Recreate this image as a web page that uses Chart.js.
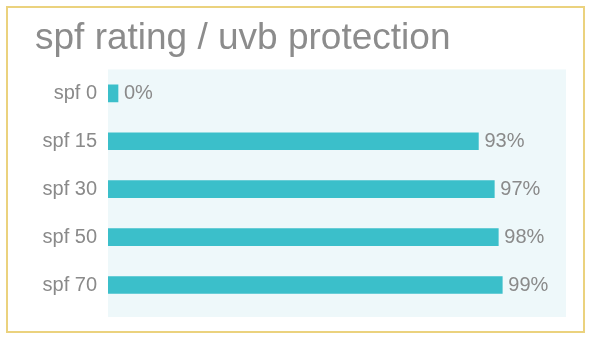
<!DOCTYPE html>
<html>
<head>
<meta charset="utf-8">
<script src="https://cdn.jsdelivr.net/npm/chart.js@4/dist/chart.umd.min.js"></script>
<style>
  html, body { margin: 0; padding: 0; background: #fff; }
  #wrap { position: relative; width: 592px; height: 341px; }
  #frame {
    position: absolute; left: 6px; top: 6px; width: 579px; height: 327px;
    box-sizing: border-box; border: 2px solid #ebd27e; pointer-events: none;
  }
</style>
</head>
<body>
<div id="wrap">
  <canvas id="uvbChart" width="592" height="341"></canvas>
  <div id="frame"></div>
</div>
<script>
const categories = ['spf 0', 'spf 15', 'spf 30', 'spf 50', 'spf 70'];
const protection = [0, 93, 97, 98, 99];

const textGray = '#8a8a8a';
const barTeal = '#3bbfca';
const fontFamily = '"Liberation Sans", Arial, sans-serif';

// light panel behind the bars
const panelBackground = {
  id: 'panelBackground',
  beforeDraw(chart) {
    const { ctx, chartArea } = chart;
    ctx.save();
    ctx.fillStyle = '#eef8fa';
    ctx.fillRect(chartArea.left, chartArea.top, chartArea.right - chartArea.left, chartArea.bottom - chartArea.top + 8);
    ctx.restore();
  }
};

// percentage printed just past the end of each bar
const valueLabels = {
  id: 'valueLabels',
  afterDatasetsDraw(chart) {
    const { ctx } = chart;
    const meta = chart.getDatasetMeta(0);
    ctx.save();
    ctx.font = '20px ' + fontFamily;
    ctx.fillStyle = textGray;
    ctx.textAlign = 'left';
    ctx.textBaseline = 'middle';
    meta.data.forEach((bar, i) => {
      ctx.fillText(protection[i] + '%', bar.x + 6, bar.y);
    });
    ctx.restore();
  }
};

new Chart(document.getElementById('uvbChart'), {
  type: 'bar',
  data: {
    labels: categories,
    datasets: [{
      data: protection,
      backgroundColor: barTeal,
      borderWidth: 0,
      barThickness: 17,
      minBarLength: 10
    }]
  },
  options: {
    indexAxis: 'y',
    responsive: false,
    animation: false,
    layout: {
      padding: { left: 35, right: 26, top: 0, bottom: 32 }
    },
    plugins: {
      legend: { display: false },
      tooltip: { enabled: false },
      title: {
        display: true,
        text: 'spf rating / uvb protection',
        align: 'start',
        color: '#8c8c8c',
        font: { family: fontFamily, size: 37, weight: 'normal' },
        padding: { top: 17, bottom: 8 }
      }
    },
    scales: {
      x: {
        display: false,
        min: 0,
        max: 115
      },
      y: {
        grid: { display: false, drawTicks: false },
        border: { display: false },
        ticks: {
          color: textGray,
          padding: 11,
          font: { family: fontFamily, size: 20 }
        },
        afterFit(scale) {
          scale.width = 73;
        }
      }
    }
  },
  plugins: [panelBackground, valueLabels]
});
</script>
</body>
</html>
